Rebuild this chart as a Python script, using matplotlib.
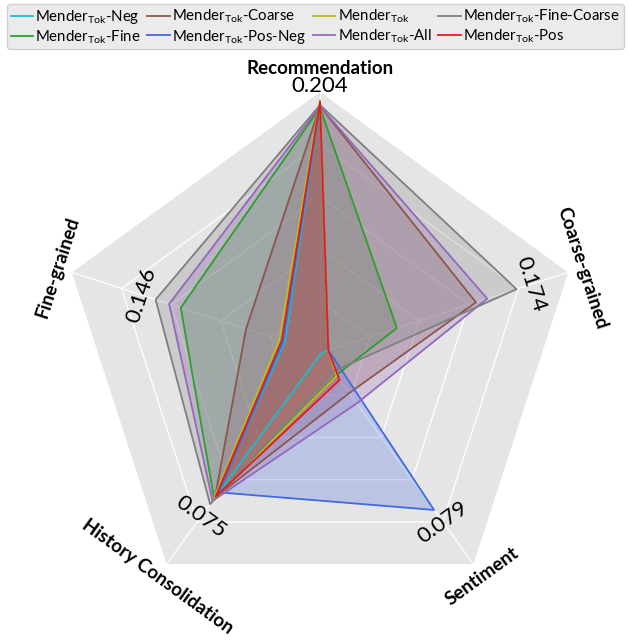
import numpy as np
import matplotlib.pyplot as plt

plt.rcParams['font.family'] = ['Lato', 'DejaVu Sans']
plt.rcParams['mathtext.fontset'] = 'custom'
plt.rcParams['mathtext.rm'] = 'Lato'
plt.rcParams['mathtext.it'] = 'Lato:italic'
plt.rcParams['mathtext.bf'] = 'Lato:bold'

categories = ['Recommendation', 'Coarse-grained', 'Sentiment',
              'History Consolidation', 'Fine-grained']
# value sitting on the outer ring of each axis
axis_top = [0.211, 0.2197, 0.1063, 0.1047, 0.2205]

# one list per model, order follows categories
tok_neg = [0.2015, 0.0072, 0.0005, 0.0707, 0.0311]
tok_fine = [0.1983, 0.0680, 0.0112, 0.0722, 0.1237]
tok_coarse = [0.1994, 0.1380, 0.0202, 0.0717, 0.0657]
tok_pos_neg = [0.2015, 0.0075, 0.0790, 0.0691, 0.0326]
tok = [0.2040, 0.0072, 0.0115, 0.0728, 0.0362]
tok_all = [0.1994, 0.1480, 0.0254, 0.0733, 0.1340]
tok_fine_coarse = [0.2005, 0.1740, 0.0092, 0.0750, 0.1460]
tok_pos = [0.2026, 0.0073, 0.0136, 0.0712, 0.0340]

suffixes = ['-Neg', '-Fine', '-Coarse', '-Pos-Neg', '', '-All', '-Fine-Coarse', '-Pos']
series = [tok_neg, tok_fine, tok_coarse, tok_pos_neg, tok, tok_all, tok_fine_coarse, tok_pos]
line_colors = ['#17becf', '#2ca02c', '#8c564b', '#4169e1', '#bcbd22', '#9467bd', '#7f7f7f', '#e41a1c']

n = len(categories)
angles = np.linspace(0, 2 * np.pi, n, endpoint=False)
loop = np.append(angles, angles[0])

fig = plt.figure(figsize=(6.29, 6.43), dpi=100)
ax = fig.add_axes([0.0938, 0.0451, 0.8299, 0.8118], projection='polar')
ax.set_theta_offset(np.pi / 2)
ax.set_theta_direction(-1)
ax.set_ylim(0, 1)
ax.set_xticks([])
ax.set_yticks([])
ax.grid(False)
ax.spines['polar'].set_visible(False)
ax.set_facecolor('none')

# pentagon background + grid
ax.fill(loop, np.ones(n + 1), color='#e5e5e5', lw=0, zorder=0)
for f in [0.2, 0.4, 0.6, 0.8]:
    ax.plot(loop, np.full(n + 1, f), color='white', lw=0.9, zorder=1)
for a in angles:
    ax.plot([a, a], [0, 1], color='white', lw=0.9, zorder=1)

for vals, suf, c in zip(series, suffixes, line_colors):
    r = np.array(vals) / np.array(axis_top)
    r = np.append(r, r[0])
    ax.plot(loop, r, color=c, lw=1.3, label=r'Mender$_{\mathrm{Tok}}$' + suf, zorder=3)
    ax.fill(loop, r, color=c, alpha=0.25, lw=0, zorder=2)


def tangent_rot(a):
    rot = -np.degrees(a)
    while rot <= -90:
        rot += 180
    while rot > 90:
        rot -= 180
    return rot


data = np.array(series)
for i, a in enumerate(angles):
    rot = tangent_rot(a)
    top = data[:, i].max()
    ax.text(a, top / axis_top[i] + 0.058, f'{top:.3f}', rotation=rot,
            rotation_mode='anchor', ha='center', va='center', fontsize=16)
    rr = 1.092 if i == 0 else 1.057
    ax.text(a, rr, categories[i], rotation=rot, rotation_mode='anchor',
            ha='center', va='center', fontsize=13.5, fontweight='bold')

fig.legend(loc='upper left', bbox_to_anchor=(0.006, 0.998), ncol=4, fontsize=10.8,
           facecolor='#ebebeb', edgecolor='#d0d0d0', framealpha=1,
           handlelength=1.5, handletextpad=0.15, columnspacing=0.45,
           borderpad=0.25, labelspacing=0.15, borderaxespad=0.2)

fig.savefig('out.png', dpi=100)
